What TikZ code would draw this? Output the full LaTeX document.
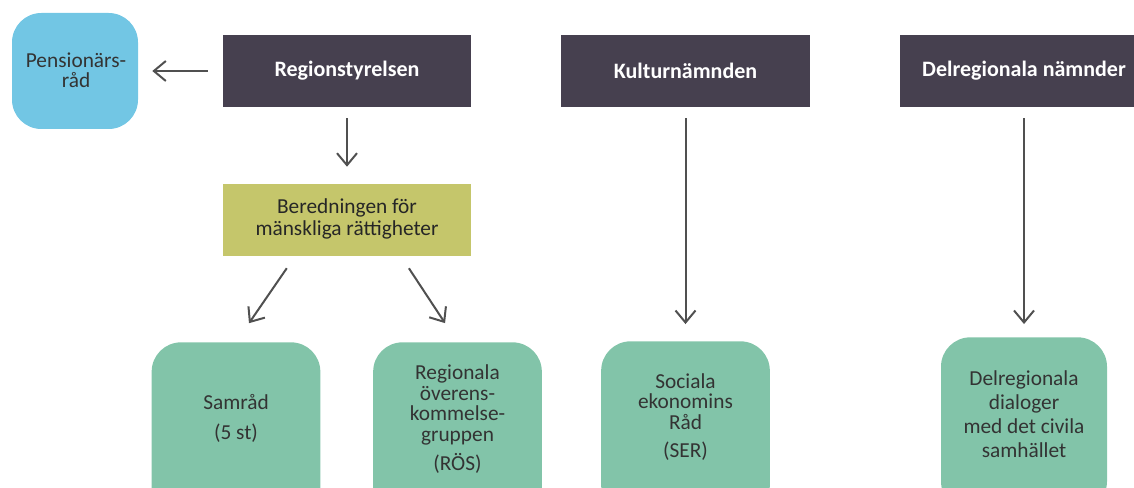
\documentclass[tikz,border=0pt]{standalone}
\usepackage{fontspec}
\setmainfont{Carlito}
\usetikzlibrary{arrows.meta,calc}
\definecolor{cdark}{HTML}{46404F}
\definecolor{cgreen}{HTML}{82C4A9}
\definecolor{cblue}{HTML}{72C6E4}
\definecolor{colive}{HTML}{C5C66B}
\definecolor{carrow}{HTML}{505050}
\definecolor{ctext}{HTML}{333333}
\begin{document}
\begin{tikzpicture}[x=0.75pt,y=-0.75pt,
  head/.style={fill=cdark, text=white, font=\fontsize{16.5}{19}\selectfont\bfseries,
    inner sep=0pt, minimum width=186.5pt, minimum height=54pt},
  gbox/.style={fill=cgreen, rounded corners=22pt, inner sep=0pt,
    minimum width=126.5pt, minimum height=130pt},
  lbl/.style={text=ctext, align=center, inner sep=0pt},
  arr/.style={draw=carrow, line width=1.5pt, -{Straight Barb[length=9pt,width=15pt]}}]
\useasboundingbox (0,0) rectangle (1134,488);
\clip (0,0) rectangle (1134,488);

% top row
\node[fill=cblue, rounded corners=22pt, inner sep=0pt, minimum width=94.5pt, minimum height=87pt] (pens) at (75,71) {};
\node[lbl, font=\fontsize{16}{15}\selectfont] (pensT) at (76,70) {Pensionärs-\\råd};
\node[head] (reg) at (347,71) {Regionstyrelsen};
\node[head] (kult) at (685.5,71) {Kulturnämnden};
\node[head] (delr) at (1024,71) {Delregionala nämnder};

% olive box
\node[fill=colive, inner sep=0pt, minimum width=186pt, minimum height=54pt] (ber) at (347,220) {};
\node[lbl, font=\fontsize{16}{16.5}\selectfont, text=black!85] (berT) at (347,219) {Beredningen för\\mänskliga rättigheter};

% green boxes
\node[gbox] (sam) at (236,429) {};
\node[lbl, font=\fontsize{16}{15.5}\selectfont] (samT) at (236,418) {Samråd\\[7pt](5 st)};
\node[gbox] (ros) at (457.5,429) {};
\node[lbl, font=\fontsize{16}{15.5}\selectfont] (rosT) at (457.5,419) {Regionala\\överens-\\kommelse-\\gruppen\\[5pt](RÖS)};
\node[gbox] (ser) at (685.5,428) {};
\node[lbl, font=\fontsize{16}{15.3}\selectfont] (serT) at (685.5,417) {Sociala\\ekonomins\\Råd\\[6pt](SER)};
\node[gbox, minimum width=124.5pt] (dia) at (1024,424) {};
\node[lbl, font=\fontsize{16}{18}\selectfont] (diaT) at (1024,414) {Delregionala\\dialoger\\med det civila\\samhället};

% connectors
\draw[arr, shorten <=11pt, shorten >=10.5pt] (reg.west) -- (pens.east);
\draw[arr, shorten <=8.25pt, shorten >=12.75pt] (reg.south) -- (ber.north);
\draw[arr, shorten <=10.9pt, shorten >=17.2pt] ($(ber.south)+(-52,0)$) -- (sam.north);
\draw[arr, shorten <=10.8pt, shorten >=17pt] ($(ber.south)+(54,0)$) -- (ros.north);
\draw[arr, shorten <=8.25pt, shorten >=12.75pt] (kult.south) -- (ser.north);
\draw[arr, shorten <=8.25pt, shorten >=9.75pt] (delr.south) -- (dia.north);
\end{tikzpicture}
\end{document}
